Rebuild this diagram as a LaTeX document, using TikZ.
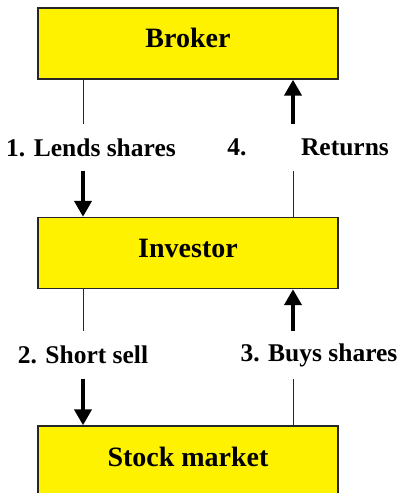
\documentclass[tikz,border=0pt]{standalone}
\usepackage{fontspec}
\setmainfont{Liberation Serif}
\usetikzlibrary{arrows.meta,positioning}

\begin{document}
\begin{tikzpicture}[x=1pt,y=-1pt,
    party/.style={rectangle,draw=black!85,line width=1.4pt,fill=yellow,
        minimum width=300pt,minimum height=71pt,inner sep=0pt,
        text height=20pt,text depth=12pt,
        font=\fontsize{28}{30}\selectfont\bfseries},
    steplabel/.style={inner sep=0pt,minimum height=46pt,
        font=\fontsize{25.5}{28}\selectfont\bfseries},
    flowline/.style={draw=black!85,line width=1pt},
    flowarrow/.style={draw=black,line width=4.5pt,-{Triangle[width=17pt,length=16pt]}}]
    \useasboundingbox (0,0) rectangle (401,493);

    % Columns of the connectors
    \coordinate (colL) at (83,0);
    \coordinate (colR) at (293,0);

    % The three parties
    \node[party] (broker) at (188,43.5) {Broker};
    \node[party] (investor) at (188,253) {Investor};
    \node[party,minimum height=72pt] (market) at (188,462) {Stock market};

    % Step labels between the parties
    \node[steplabel] (lend) at (91,147.5) {1. Lends shares};
    \node[steplabel] (four) at (237,147.5) {4.};
    \node[steplabel] (ret) at (345,147.5) {Returns};
    \node[steplabel,minimum height=47pt] (short) at (83,355) {2. Short sell};
    \node[steplabel,minimum height=47pt] (buys) at (319,355) {3. Buys shares};

    % Broker lends shares to the investor
    \draw[flowline] (broker.south -| colL) -- (lend.north -| colL);
    \draw[flowarrow] (lend.south -| colL) -- (investor.north -| colL);

    % Investor returns the shares
    \draw[flowline] (investor.north -| colR) -- (ret.south -| colR);
    \draw[flowarrow] (ret.north -| colR) -- (broker.south -| colR);

    % Investor sells short on the market
    \draw[flowline] (investor.south -| colL) -- (short.north -| colL);
    \draw[flowarrow] (short.south -| colL) -- (market.north -| colL);

    % Investor buys the shares back
    \draw[flowline] (market.north -| colR) -- (buys.south -| colR);
    \draw[flowarrow] (buys.north -| colR) -- (investor.south -| colR);
\end{tikzpicture}
\end{document}
